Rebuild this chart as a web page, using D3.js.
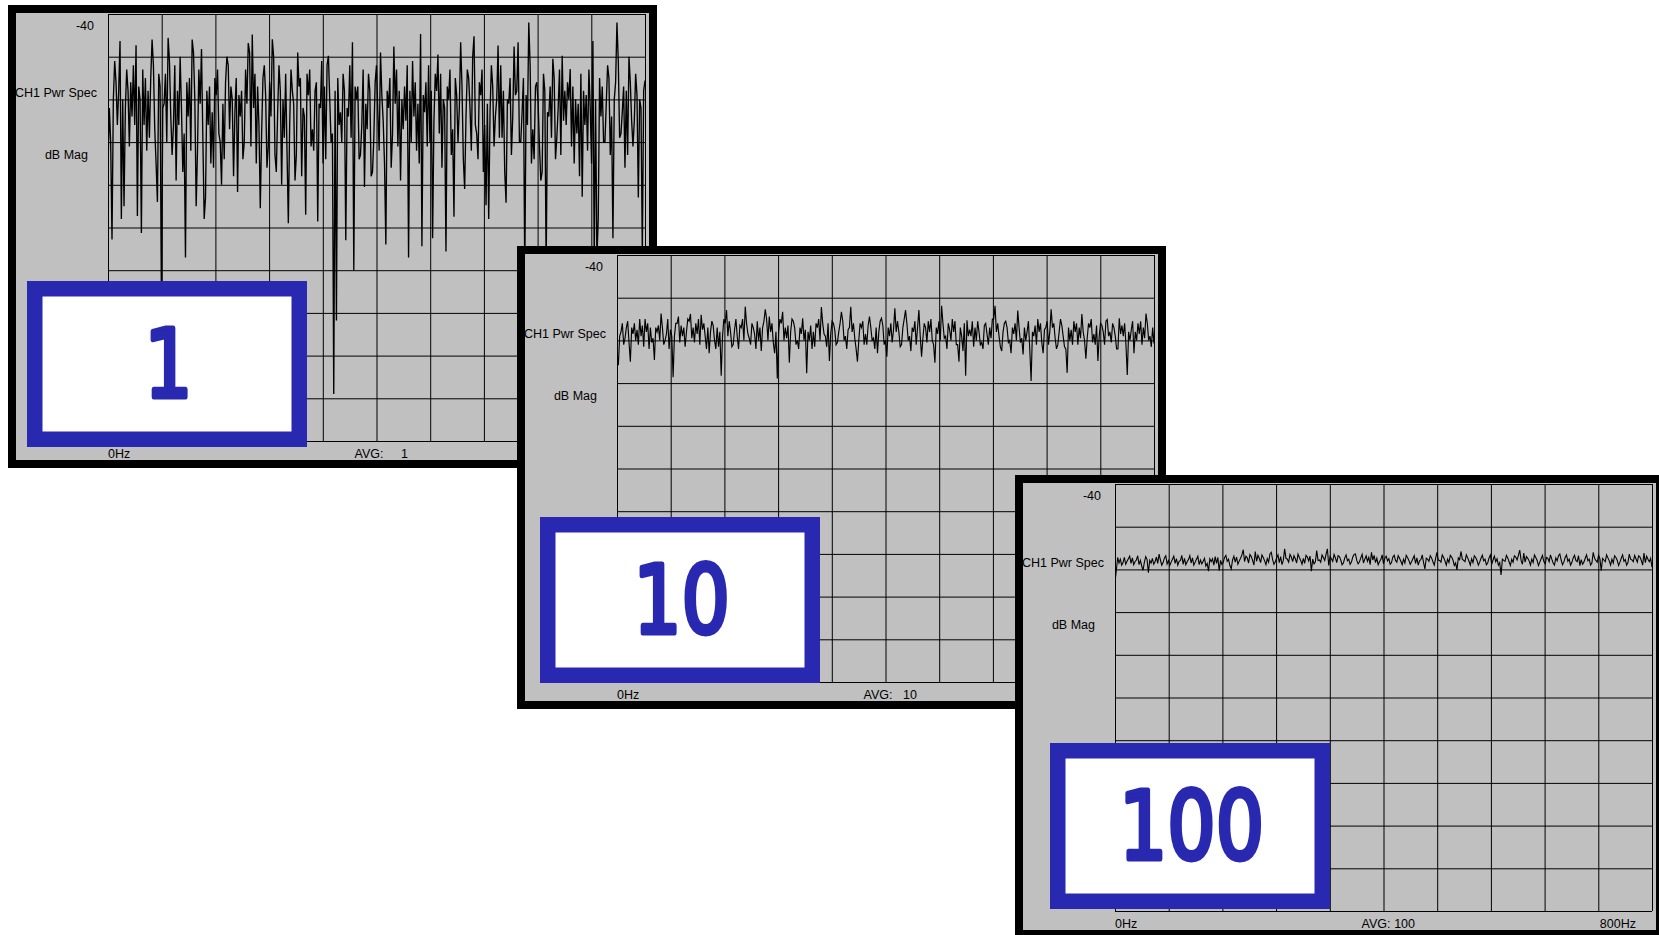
<!DOCTYPE html>
<html>
<head>
<meta charset="utf-8">
<script src="https://cdn.jsdelivr.net/npm/d3@7"></script>
<style>
  html, body { margin: 0; padding: 0; background: #fff; }
  svg { display: block; }
  text { font-family: "Liberation Sans", Arial, sans-serif; }
</style>
</head>
<body>
<svg id="chart" width="1659" height="935"></svg>
<script>
// Channel 1 power spectrum, dB magnitude per frequency bin (0–800 Hz), single sweep
const traceAvg1 = [
  -76, -62, -70, -92.8, -60, -51, -56, -66, -58, -46.3, -88, -60, -85, -62, -53, -58, -71, -56, -64, -52, -66, -47.3, -87.3, -57, -60, -91.3, -53, -66, -55, -72,
  -58, -69, -55, -46, -52, -67, -75, -84, -54, -57, -108, -62, -61, -54, -70, -45.6, -51, -64, -73, -66, -52, -79, -58, -66, -50, -62, -77, -68, -97, -56,
  -64, -55, -72, -46, -49, -60, -85, -72, -53, -61, -48.2, -69, -88, -83, -58, -66, -57, -75, -63, -76, -55, -59, -53, -68, -70, -80, -61, -74, -56, -50,
  -52, -67, -57, -60, -78, -63, -55, -81.7, -59, -64, -58, -74, -70, -53, -61, -46.8, -49, -71, -44.8, -62, -54, -75, -57, -66, -85.5, -68, -55, -52, -59, -76,
  -71, -56, -64, -45.9, -50, -73, -77, -63, -52, -58, -80, -60, -69, -54, -72, -89, -66, -53, -58, -61, -79, -73, -49, -57, -55, -78, -62, -64, -87, -54,
  -59, -53, -71, -67, -72, -58, -56, -88.6, -61, -62, -51, -75, -57, -74, -52, -49.8, -60, -70, -68, -129, -58, -111.8, -55, -66, -63, -70, -54, -58, -93, -62,
  -64, -52, -69, -46.6, -100, -57, -60, -57, -74, -73, -66, -53, -80.5, -61, -67, -54, -58, -78, -77, -69, -56, -52, -63, -72, -49, -59, -65, -75, -94, -58,
  -62, -55, -76, -68, -47.6, -61, -53, -71, -58, -79, -60, -67, -57, -65, -52, -97, -58, -70, -51, -64, -56, -72, -61, -75, -44.7, -94.4, -59, -63, -56, -71,
  -52, -70, -58, -92.5, -65, -54, -58, -49.5, -68, -54, -76, -60, -62, -95.6, -57, -60, -53, -73, -67, -87.5, -55, -59, -70, -62, -46.6, -57, -74, -81, -64, -53,
  -55, -62, -72, -50, -45.2, -66, -68, -74, -56, -59, -53, -77, -66, -84.8, -61, -88, -63, -52, -57, -71, -64, -60, -47.4, -69, -52, -69, -58, -77, -84.2, -60,
  -61, -55, -73, -64, -47.6, -59, -58, -46.6, -70, -70, -63, -55, -101, -59, -66, -42, -52, -75, -67, -74, -57, -56, -61, -71, -79, -77, -54, -58, -99, -63,
  -64, -57, -69, -50.5, -55, -74, -69, -62, -53, -73, -49.8, -65, -58, -66, -56, -60, -52.9, -71, -57, -75, -60, -68, -61, -78, -54, -82.8, -58, -66, -59, -72,
  -53, -62, -75, -46.3, -98, -60, -97, -88, -55, -64, -57, -70, -70, -61, -52, -55, -73, -64, -92.5, -60, -56, -42, -51, -69, -68, -63, -57, -76, -58, -73,
  -50, -56, -65, -71, -65, -54, -59, -83, -60, -62, -96, -58, -55.6
];

// Same channel, 10 averages
const traceAvg10 = [
  -62.6, -65.8, -59, -58, -56, -61, -59.5, -57, -55.5, -60.5, -65, -57, -58.5, -56, -60, -57.5, -61, -55, -59, -56.5, -61.5, -55, -58, -56, -62, -57, -60.5, -59.5, -64.6, -57,
  -58, -56.5, -60, -53.7, -57, -61, -60, -58.5, -55, -62, -57.5, -59, -68.6, -59, -56, -56, -54.4, -60.5, -56.5, -59, -57, -61.5, -58, -55, -55.5, -53.8, -59.5, -57, -60.5, -56,
  -58.5, -55, -61, -54, -57.5, -56, -59, -62, -57, -63, -58, -55.5, -56.5, -60, -62, -57, -61.5, -58, -68.3, -59, -55, -56, -52.9, -59, -55.5, -58, -61.5, -61, -57.5, -55,
  -59, -62, -56.5, -57, -55, -60, -52.1, -56, -58.5, -59.5, -61, -56, -57, -58.5, -62, -55.5, -60, -57, -62.5, -57, -55.5, -52.7, -55, -60, -54.4, -58, -56, -60.5, -63, -58,
  -68.9, -58, -55, -56, -53.3, -60, -57, -59.5, -56.5, -65.2, -58, -55, -55.5, -57, -61, -60, -62, -57, -58.5, -54.8, -60, -57.5, -67.7, -58, -60, -56.5, -62, -58, -61.5, -56,
  -57, -55, -60, -52.2, -56, -58.5, -59, -61.5, -56, -64.8, -58.5, -55.5, -56, -57.5, -61, -60.5, -58, -56, -53.3, -55.5, -60, -59, -62, -57.5, -57, -52.1, -58, -56, -59.5, -62,
  -65, -60, -56, -57, -55.5, -61, -58.5, -61, -56.5, -54.4, -57, -60, -59.5, -62, -57, -63, -58, -55.5, -54.8, -56.5, -61, -60, -63.8, -57, -59, -56, -60.5, -57.5, -52.5, -58,
  -55.5, -58, -61.5, -61, -57, -55, -52.9, -56, -60, -59, -62.5, -57, -58, -55.5, -61, -57, -52.9, -59, -63.8, -59.5, -56, -57, -60.5, -55.5, -58, -55, -60, -61, -65.2, -57,
  -58.5, -55.5, -60, -51.9, -56, -59.5, -59, -62, -56, -57.5, -60, -55, -58, -55.5, -61, -61, -65, -57, -59, -62.5, -56, -68.3, -55.3, -59, -57.5, -59, -55.5, -61.5, -57, -60,
  -55.5, -58, -61, -60.5, -62, -56.5, -56, -58.5, -61, -57, -59.5, -55, -55, -51.9, -58, -56, -59, -61.5, -62.5, -58, -56, -55.5, -57, -60.5, -60, -63, -57, -58.5, -56, -60,
  -53, -57, -60.5, -59.5, -63.3, -57, -60, -58, -55.5, -62, -69.5, -58, -59, -56.5, -61, -55, -58, -56, -60.5, -63, -57.5, -57, -55.5, -61, -58, -52.7, -57, -56, -59.5, -62,
  -61, -58, -55, -56.5, -59, -61.5, -62, -67.6, -57, -60, -57.5, -61, -55.5, -58, -56, -61, -57, -59.5, -53.8, -58, -60, -64.3, -59.5, -56, -57, -55, -60.5, -58.5, -61, -56.5,
  -64.8, -59, -56, -56.5, -58, -61, -55.5, -55.1, -59, -58, -60.5, -56, -57, -59, -62, -62, -54.8, -58.5, -56.5, -59, -56, -61, -68.1, -58, -60, -57.5, -55.5, -63, -58, -60,
  -56, -58.5, -55.5, -61, -57, -59.5, -53.7, -56, -60, -59, -61.5, -57, -60.7
];

// Same channel, 100 averages
const traceAvg100 = [
  -63, -60.2, -57.2, -58.5, -57.6, -59, -58.4, -57.2, -58.8, -58.1, -57.5, -56.9, -58.6, -57.3, -58.9, -58.2, -57.8, -56.8, -58.9, -57.9, -59.2, -60.2, -58.3, -57, -57.7, -60.8, -57.9, -58.5, -57.4, -58.8,
  -58.2, -57.1, -58.6, -56.4, -57.8, -59, -58.4, -57.3, -56.8, -58.7, -57.9, -59.1, -58.3, -57.6, -56.9, -58.6, -57.5, -59, -58.1, -57.9, -56.7, -58.8, -57.4, -58.9, -58.2, -57.7, -56.8, -58.5, -57.3, -59,
  -58.3, -57.6, -56.9, -58.9, -57.8, -58.7, -58.1, -57.4, -59.2, -58.6, -60.4, -57.5, -58.2, -57.5, -59, -57, -58.6, -57.2, -60.3, -57.9, -58.8, -58.4, -57.2, -56.7, -58.1, -57.6, -59.1, -59.9, -57.8, -56.9,
  -58.3, -57.1, -58.8, -58, -57.4, -56.6, -55.4, -58.2, -56.9, -57.3, -58.5, -56.5, -57, -57.9, -59, -55.8, -58.1, -56.7, -57.4, -58.4, -56.6, -57.2, -58, -58.9, -57.5, -58.3, -56.4, -56, -57.7, -58.8,
  -58.2, -57.3, -56.6, -58.4, -57, -58.9, -57.9, -55.2, -57.4, -57.6, -58.3, -56.5, -57.1, -58.2, -56.8, -57.5, -58.5, -56.4, -57.2, -57.9, -58.8, -57.4, -58.6, -56.7, -57.1, -58, -56.9, -60.4, -57.6, -58.7,
  -58.2, -55.6, -57.9, -57.8, -58.3, -56.6, -57.2, -57.9, -56.4, -55.2, -59.1, -57, -57.5, -58.1, -56.5, -57.3, -58.4, -56.8, -57, -57.8, -58.9, -58.5, -57.3, -56.6, -58, -57.6, -58.8, -58.3, -57.1, -56.5,
  -56.4, -57.9, -58.7, -58.2, -57.3, -56.5, -58.5, -57.6, -56.8, -58.1, -57.2, -58.9, -56, -57.8, -56.7, -58.4, -57.4, -58.9, -58.2, -57.7, -56.6, -58.7, -57.3, -56.9, -58, -57.5, -58.8, -58.4, -57.1, -56.7,
  -57.9, -58.3, -56.8, -57.4, -58.1, -58.9, -57.6, -58.5, -56.7, -57.2, -57.9, -58.8, -58.2, -57.5, -56.8, -58.6, -57.3, -59, -58, -57.7, -56.6, -58.4, -59.9, -57.4, -57.6, -58.1, -56.8, -57.3, -58.2, -59,
  -57.4, -56, -57.8, -57.9, -58.3, -56.6, -57.2, -58, -59, -57.6, -58.4, -56.7, -57.1, -57.8, -59.1, -58.5, -60.1, -57.3, -57.7, -55.8, -57.6, -57.9, -58.2, -56.6, -57.3, -58.1, -59, -57.5, -58.4, -56.8,
  -57.2, -57.9, -59, -58.3, -57.4, -56.7, -58, -57.6, -58.9, -58.5, -57.3, -56.6, -58.8, -57.8, -56.9, -58.2, -57.5, -59, -58.4, -61.3, -57.6, -57.9, -58.1, -56.7, -57.3, -58.2, -59.1, -57.6, -58.3, -56.8,
  -57.1, -57.8, -56.7, -55.5, -57.9, -58.8, -56.2, -58.3, -57, -57.4, -58, -59, -57.6, -58.4, -56.6, -57.2, -57.9, -59.1, -58.3, -57.5, -56.7, -58.1, -58.7, -57.2, -57.4, -58.2, -56.6, -57.6, -58.5, -59,
  -57.3, -58, -56.8, -56.4, -57.8, -58.9, -58.3, -57.2, -56.6, -58.1, -57.6, -59, -58.4, -57.3, -56.7, -57.9, -58.2, -56.8, -59.1, -57.7, -58.8, -58.3, -57.4, -56.6, -58, -57.6, -59, -58.5, -56, -57.4,
  -57.9, -58.3, -56.7, -57.5, -60.3, -57.4, -57.8, -58.2, -56.6, -57.3, -58, -59, -57.6, -58.5, -56.8, -57.2, -57.9, -59.1, -58.3, -57.4, -56.6, -58.1, -57.7, -59, -58.4, -56.4, -57.6, -57.8, -58.2, -56.7,
  -57.5, -58.3, -56.8, -57.1, -57.9, -59, -56.2, -58.4, -56.9, -57.6, -58.2, -57.4, -59.5
];

const averageCounts = ["1", "10", "100"];
const yGridDb = [-40, -50, -60, -70, -80, -90, -100, -110, -120, -130, -140];
const xGridHz = [0, 80, 160, 240, 320, 400, 480, 560, 640, 720, 800];
const topLabel = "-40";
const channelLabel = "CH1 Pwr Spec";
const unitLabel = "dB Mag";
const startLabel = "0Hz";
const endLabel = "800Hz";
const avgLabel = "AVG:";

// ---- layout ----
const panelW = 649, panelH = 463, border = 8;
const plot = { left: 100, top: 9, width: 537, height: 427 };
const boxW = 280, boxH = 166, boxBorder = 15.5;
const blue = "#2828b0", screen = "#c0c0c0";

const panels = [
  { x: 8,    y: 5,   boxX: 27,   boxY: 281, data: traceAvg1,   avg: averageCounts[0], traceWidth: 1.35 },
  { x: 517,  y: 246, boxX: 540,  boxY: 517, data: traceAvg10,  avg: averageCounts[1], traceWidth: 1.15 },
  { x: 1015, y: 475, boxX: 1050, boxY: 743, data: traceAvg100, avg: averageCounts[2], traceWidth: 1.1 }
];

const svg = d3.select("#chart");

const x = d3.scaleLinear().domain([0, 800]).range([0, plot.width]);
const y = d3.scaleLinear().domain([-40, -140]).range([0, plot.height]);

panels.forEach((p, k) => {
  const g = svg.append("g").attr("transform", `translate(${p.x},${p.y})`);

  // instrument frame
  g.append("rect").attr("width", panelW).attr("height", panelH).attr("fill", "#000");
  g.append("rect")
    .attr("x", border).attr("y", border)
    .attr("width", panelW - 2 * border).attr("height", panelH - 2 * border)
    .attr("fill", screen);

  const pg = g.append("g").attr("transform", `translate(${plot.left},${plot.top})`);

  // graticule
  pg.append("g")
    .call(d3.axisLeft(y).tickValues(yGridDb).tickSize(-plot.width).tickFormat(""))
    .call(a => a.select(".domain").remove())
    .call(a => a.selectAll("line").attr("stroke", "#000").attr("stroke-width", 1));
  pg.append("g")
    .attr("transform", `translate(0,${plot.height})`)
    .call(d3.axisBottom(x).tickValues(xGridHz).tickSize(-plot.height).tickFormat(""))
    .call(a => a.select(".domain").remove())
    .call(a => a.selectAll("line").attr("stroke", "#000").attr("stroke-width", 1));

  // spectrum trace
  const clipId = `clip${k}`;
  pg.append("clipPath").attr("id", clipId)
    .append("rect").attr("width", plot.width).attr("height", plot.height);
  const n = p.data.length;
  const line = d3.line()
    .x((d, i) => x(i * 800 / (n - 1)))
    .y(d => y(d));
  pg.append("path")
    .datum(p.data)
    .attr("clip-path", `url(#${clipId})`)
    .attr("fill", "none")
    .attr("stroke", "#000")
    .attr("stroke-width", p.traceWidth)
    .attr("stroke-linejoin", "miter")
    .attr("d", line);

  // labels
  const lbl = (tx, ty, s, anchor) => g.append("text")
    .attr("x", tx).attr("y", ty)
    .attr("text-anchor", anchor)
    .attr("fill", "#000")
    .style("font-size", "12.5px")
    .text(s);

  lbl(plot.left - 14, plot.top + y(-40) + 15.5, topLabel, "end");
  lbl(plot.left - 11, plot.top + 82.5, channelLabel, "end");
  lbl(plot.left - 20, plot.top + 144.5, unitLabel, "end");
  const by = plot.top + plot.height + 16.5;
  lbl(plot.left + x(0), by, startLabel, "start");
  lbl(plot.left + 246.5, by, avgLabel, "start");
  lbl(plot.left + 300, by, p.avg, "end");
  lbl(plot.left + x(800) - 16, by, endLabel, "end");

  // averaging-count badge
  const bx = p.boxX - p.x, byy = p.boxY - p.y;
  g.append("rect")
    .attr("x", bx).attr("y", byy)
    .attr("width", boxW).attr("height", boxH)
    .attr("fill", blue);
  g.append("rect")
    .attr("x", bx + boxBorder).attr("y", byy + boxBorder)
    .attr("width", boxW - 2 * boxBorder).attr("height", boxH - 2 * boxBorder)
    .attr("fill", "#fff");
  g.append("text")
    .attr("transform", `translate(${bx + boxW / 2 + 1.5},${byy + 115.5}) scale(0.8,1)`)
    .attr("text-anchor", "middle")
    .attr("fill", blue)
    .attr("stroke", blue)
    .attr("stroke-width", 5)
    .attr("stroke-linejoin", "round")
    .style("font-family", '"Comic Sans MS", "DejaVu Sans", sans-serif')
    .style("font-size", "95px")
    .text(p.avg);
});
</script>
</body>
</html>
